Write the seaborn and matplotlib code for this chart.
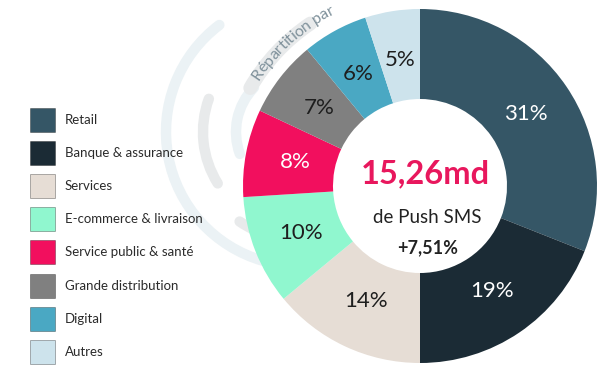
import numpy as np
import pandas as pd
import seaborn as sns
import matplotlib
matplotlib.use("Agg")
import matplotlib.pyplot as plt
from matplotlib.patches import Arc, Rectangle
from matplotlib.textpath import TextToPath
from matplotlib.font_manager import FontProperties

# ---- data ----
categories = ["Retail", "Banque & assurance", "Services", "E-commerce & livraison",
              "Service public & santé", "Grande distribution", "Digital", "Autres"]
shares = [31, 19, 14, 10, 8, 7, 6, 5]
colors = ["#355666", "#1b2b35", "#e6ddd5", "#90f7cf", "#f20f5e", "#808080", "#4aa8c3", "#cde3ec"]
label_colors = ["white", "white", "#1e1e1e", "#1e1e1e", "white", "#1e1e1e", "#1e1e1e", "#1e1e1e"]
center_value = "15,26md"
center_sub = "de Push SMS"
center_growth = "+7,51%"
arc_title = "Répartition par"

sns.set_theme(style="white")
plt.rcParams["font.family"] = ["Lato", "DejaVu Sans"]

df = pd.DataFrame({"cat": categories, "share": shares, "color": colors})

fig = plt.figure(figsize=(6, 3.72), dpi=100)
ax = fig.add_axes([0, 0, 1, 1])
H = 372
CX, CY, R = 420, 186, 177

# decorative background arcs
light = "#ebf2f5"
grey = "#e8eaeb"
deco = [
    ((300, 240), 134, 127, 254, light, 7.5),
    ((300, 240), 97, 160, 212, grey, 7.5),
    ((300, 240), 64, 136, 200, light, 7.5),
    ((300, 240), 108, 236, 246, grey, 7.5),
]
for (x, y), r, t1, t2, c, lw in deco:
    a = Arc((x, y), 2 * r, 2 * r, theta1=t1, theta2=t2, color=c, lw=lw, zorder=0)
    a.set_capstyle("round")
    ax.add_patch(a)
band = Arc((CX, CY), 2 * 196, 2 * 196, theta1=124, theta2=150, color=grey, lw=10, zorder=0)
band.set_capstyle("round")
ax.add_patch(band)

wedges, texts, autotexts = ax.pie(
    df["share"], colors=df["color"], startangle=90, counterclock=False,
    radius=R, center=(CX, CY),
    wedgeprops=dict(width=90, edgecolor="none"),
    autopct=lambda p: f"{round(p)}%", pctdistance=0.72,
    textprops=dict(fontsize=16, fontweight="normal"),
)
for t, c in zip(autotexts, label_colors):
    t.set_color(c)

ax.set_xlim(0, 600)
ax.set_ylim(0, H)
ax.set_aspect("equal")
ax.axis("off")

# center texts
ax.text(425, 189, center_value, ha="center", va="baseline", fontsize=23.5,
        fontweight="bold", color="#e8175d")
ax.text(427, 149, center_sub, ha="center", va="baseline", fontsize=13.5, color="#222222")
ax.text(428, 119, center_growth, ha="center", va="baseline", fontsize=13,
        fontweight="bold", color="#222222")

# curved title text
fp = FontProperties(family="Lato", weight="normal", size=11.5)
ttp = TextToPath()
def tw(s):
    w, h, d = ttp.get_text_width_height_descent(s, fp, ismath=False)
    return w * 100 / 72
rt = 196
start = np.deg2rad(147)
for k, ch in enumerate(arc_title):
    if ch == " ":
        continue
    s_mid = tw(arc_title[:k + 1]) - tw(ch) / 2
    ang = start - s_mid / rt
    x = CX + rt * np.cos(ang)
    y = CY + rt * np.sin(ang)
    ax.text(x, y, ch, fontproperties=fp, color="#7f919b", ha="center", va="center",
            rotation=np.rad2deg(ang) - 90, rotation_mode="anchor", zorder=1)

# legend (square swatches + labels)
for i, (cat, c) in enumerate(zip(df["cat"], df["color"])):
    top = 108 + i * 33.1
    ax.add_patch(Rectangle((30, H - top - 24), 25, 24, facecolor=c,
                           edgecolor=(0, 0, 0, 0.3), linewidth=0.7))
    ax.text(65, H - top - 12, cat, ha="left", va="center", fontsize=9.5, color="#2b2b2b")

fig.savefig("out.png", dpi=100)
